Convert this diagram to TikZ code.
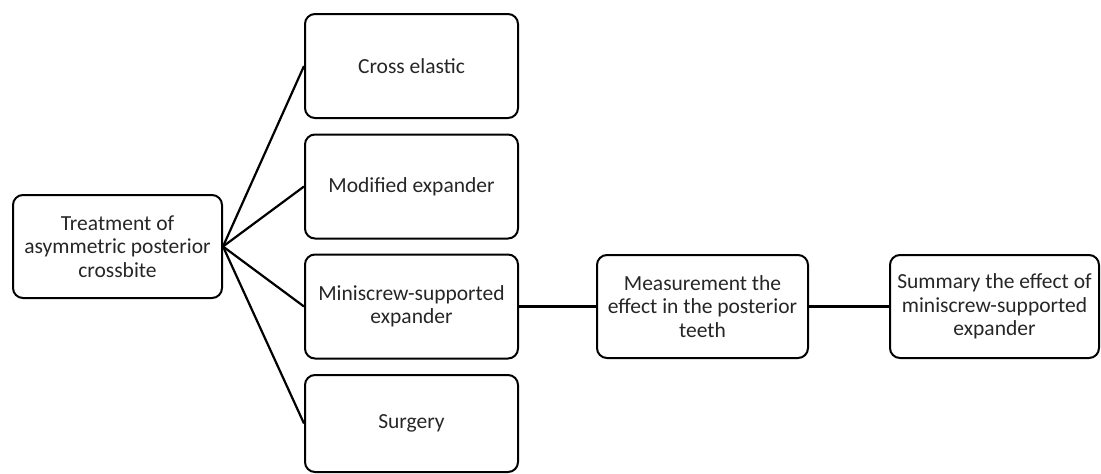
\documentclass[tikz,border=0pt]{standalone}
\usepackage{fontspec}
\setmainfont{Carlito}
\begin{document}
\begin{tikzpicture}[x=1pt,y=-1pt,
  box/.style={draw=black, line width=2pt, rounded corners=10pt, align=center,
    inner sep=1pt, font=\fontsize{21.5}{23.5}\selectfont, text=black!85},
  link/.style={draw=black, line width=2.2pt}]
\useasboundingbox (0,0) rectangle (1101,474);
\node[box, minimum width=209pt, minimum height=103pt] (root) at (117.5,246.5) {Treatment of\\asymmetric posterior\\crossbite};
\node[box, minimum width=213pt, minimum height=104pt] (ce) at (411.5,66) {Cross elastic};
\node[box, minimum width=213pt, minimum height=104pt] (me) at (411.5,186.5) {Modified expander};
\node[box, minimum width=213pt, minimum height=104pt] (ms) at (411.5,306.5) {Miniscrew-supported\\expander};
\node[box, minimum width=213pt, minimum height=97pt] (su) at (411.5,423.5) {Surgery};
\node[box, minimum width=211pt, minimum height=103pt] (mt) at (702.5,306.5) {Measurement the\\effect in the posterior\\teeth};
\node[box, minimum width=209pt, minimum height=103pt] (sm) at (994.5,306.5) {Summary the effect of\\miniscrew-supported\\expander};
\draw[link] (root.east) -- (ce.west);
\draw[link] (root.east) -- (me.west);
\draw[link] (root.east) -- (ms.west);
\draw[link] (root.east) -- (su.west);
\draw[link, line width=3pt] (ms.east) -- (mt.west);
\draw[link, line width=3pt] (mt.east) -- (sm.west);
\end{tikzpicture}
\end{document}
